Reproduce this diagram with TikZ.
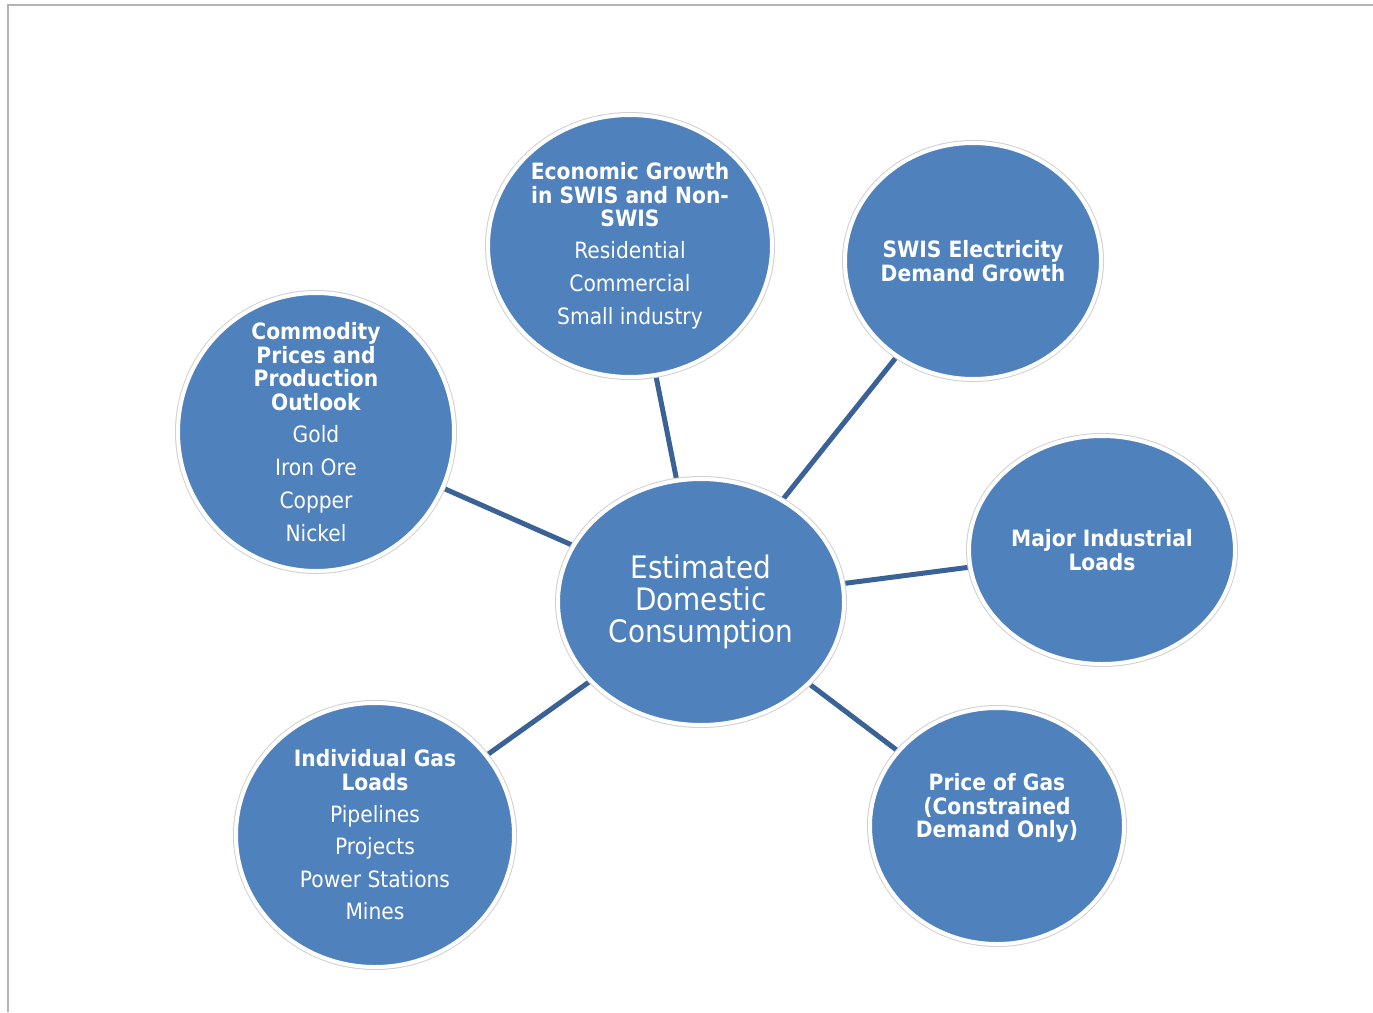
\documentclass[tikz,border=0pt]{standalone}
\usepackage{fontspec}
\IfFontExistsTF{DejaVu Sans Condensed}
  {\setmainfont{DejaVu Sans Condensed}[BoldFont={DejaVu Sans Condensed Bold}]}
  {\setmainfont{Liberation Sans}}
\usetikzlibrary{shapes.geometric,backgrounds}
\definecolor{ofblue}{RGB}{79,129,189}
\definecolor{linkblue}{RGB}{58,98,150}
\definecolor{framegray}{RGB}{180,180,180}
\tikzset{
  bub/.style={ellipse, fill=ofblue, draw=white, line width=4pt, inner sep=0pt, outer sep=0pt,
    preaction={draw=black!18, line width=6pt}},
  txt/.style={text=white, align=center, inner sep=0pt, font=\fontsize{22.5}{23.5}\selectfont},
  bigtxt/.style={text=white, align=center, inner sep=0pt, font=\fontsize{31}{32}\selectfont},
  link/.style={draw=linkblue, line width=5pt}
}
\begin{document}
\begin{tikzpicture}[x=1pt,y=-1pt]
\useasboundingbox (0,0) rectangle (1373,1012);
\draw[framegray, line width=2.5pt] (8,1012) -- (8,5) -- (1373,5);

\node[bub, minimum width=286pt, minimum height=246pt] (cent) at (701,602) {};
\node[bub, minimum width=284pt, minimum height=262pt] (econ) at (630,246) {};
\node[bub, minimum width=256pt, minimum height=236pt] (swis) at (973,261) {};
\node[bub, minimum width=276pt, minimum height=278pt] (comm) at (316,432) {};
\node[bub, minimum width=266pt, minimum height=228pt] (major) at (1102,550) {};
\node[bub, minimum width=278pt, minimum height=264pt] (indiv) at (375,835) {};
\node[bub, minimum width=254pt, minimum height=236pt] (price) at (997,826) {};

\begin{scope}[on background layer]
\draw[link] (cent.center) -- (econ.center);
\draw[link] (cent.center) -- (swis.center);
\draw[link] (cent.center) -- (comm.center);
\draw[link] (cent.center) -- (major.center);
\draw[link] (cent.center) -- (indiv.center);
\draw[link] (cent.center) -- (price.center);
\end{scope}

\node[bigtxt] (centT) at (cent.center) {Estimated\\Domestic\\Consumption};
\node[txt] (econT) at (econ.center) {\textbf{Economic Growth}\\\textbf{in SWIS and Non-}\\\textbf{SWIS}\\[8.5pt]Residential\\[9.5pt]Commercial\\[9.5pt]Small industry};
\node[txt] (swisT) at (swis.center) {\textbf{SWIS Electricity}\\\textbf{Demand Growth}};
\node[txt] (commT) at (comm.center) {\textbf{Commodity}\\\textbf{Prices and}\\\textbf{Production}\\\textbf{Outlook}\\[8.5pt]Gold\\[9.5pt]Iron Ore\\[9.5pt]Copper\\[9.5pt]Nickel};
\node[txt] (majorT) at (major.center) {\textbf{Major Industrial}\\\textbf{Loads}};
\node[txt] (indivT) at (indiv.center) {\textbf{Individual Gas}\\\textbf{Loads}\\[8.5pt]Pipelines\\[9pt]Projects\\[9pt]Power Stations\\[9pt]Mines};
\node[txt] (priceT) at ([yshift=18pt]price.center) {\textbf{Price of Gas}\\\textbf{(Constrained}\\\textbf{Demand Only)}};
\end{tikzpicture}
\end{document}
